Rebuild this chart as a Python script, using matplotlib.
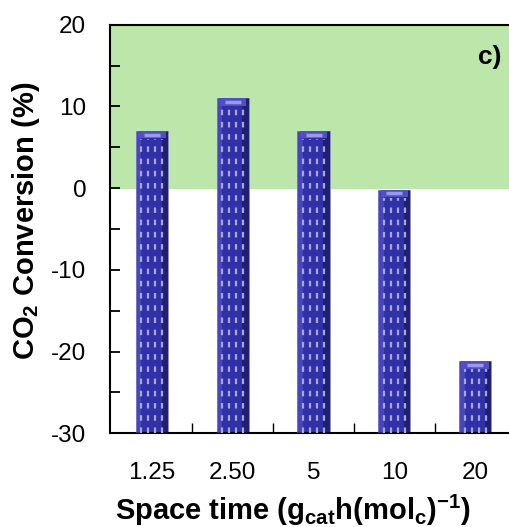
import numpy as np
import matplotlib
matplotlib.use("Agg")
import matplotlib.pyplot as plt
from matplotlib.ticker import MultipleLocator, FixedLocator

# data
space_time = ["1.25", "2.50", "5", "10", "20"]
co2_conversion = [7.0, 11.0, 7.0, -0.2, -21.2]
y_floor = -30

plt.rcParams["font.family"] = ["Liberation Sans", "DejaVu Sans"]
plt.rcParams["mathtext.fontset"] = "custom"
plt.rcParams["mathtext.rm"] = "Liberation Sans"
plt.rcParams["mathtext.bf"] = "Liberation Sans:bold"
plt.rcParams["axes.unicode_minus"] = False

fig = plt.figure(figsize=(5.09, 5.27), dpi=100)
ax = fig.add_axes([0.216, 0.178, 0.784, 0.775])

x = np.arange(len(space_time))
bar_w = 0.4
tops = np.array(co2_conversion)

# green band for positive conversion
ax.axhspan(0, 20, color="#bde6aa", zorder=0)

heights = [v - y_floor for v in co2_conversion]
ax.bar(x, heights, bottom=y_floor, width=bar_w, color="#3030a8",
       edgecolor="#9090b8", linewidth=0.6, zorder=2)
# dark right side and light left side for a rounded look
ax.bar(x + 0.16, heights, bottom=y_floor, width=0.08, color="#12124a",
       alpha=0.55, linewidth=0, zorder=3)
ax.bar(x - 0.165, heights, bottom=y_floor, width=0.07, color="#5c5cd0",
       alpha=0.5, linewidth=0, zorder=3)

# light dashed stripes on the cylinders
for off in [-0.13, -0.043, 0.043, 0.13]:
    ax.vlines(x + off, y_floor, tops - 1.0, colors="#a8a8d4",
              linestyles=(0, (2.5, 3)), linewidth=1.6, zorder=4)

# top cap highlight
ax.bar(x, 0.9, bottom=tops - 0.9, width=bar_w * 0.85, color="#5050c4",
       linewidth=0, zorder=5)
ax.scatter(x, tops - 0.45, marker="_", s=140, color="#9a9aec",
           linewidths=2.5, zorder=6)

ax.set_xlim(-0.52, 4.42)
ax.set_ylim(-30, 20)
ax.set_xticks(x)
ax.set_xticklabels(space_time)
ax.xaxis.set_minor_locator(FixedLocator(x[:-1] + 0.5))
ax.yaxis.set_major_locator(MultipleLocator(10))
ax.yaxis.set_minor_locator(MultipleLocator(5))
ax.tick_params(axis="both", which="both", direction="in", labelsize=17.5)
ax.tick_params(axis="y", which="both", length=7, width=1.3, pad=17)
ax.tick_params(axis="x", which="major", length=4, width=1, pad=21)
ax.tick_params(axis="x", which="minor", length=7, width=1)

for side in ["left", "bottom", "top"]:
    ax.spines[side].set_linewidth(1.5)
ax.spines["right"].set_visible(False)

ax.set_ylabel(r"CO$_\mathbf{2}$ Conversion (%)", fontsize=21,
              fontweight="bold")
ax.yaxis.set_label_coords(-0.17, 0.52)
ax.set_xlabel(r"Space time (g$_\mathbf{cat}$h(mol$_\mathbf{c}$)$^\mathbf{-1}$)",
              fontsize=21, fontweight="bold")
ax.xaxis.set_label_coords(0.459, -0.145)

ax.text(4.33, 16.0, "c)", fontsize=19, fontweight="bold",
        ha="right", va="center")

fig.savefig("out.png", dpi=100)
